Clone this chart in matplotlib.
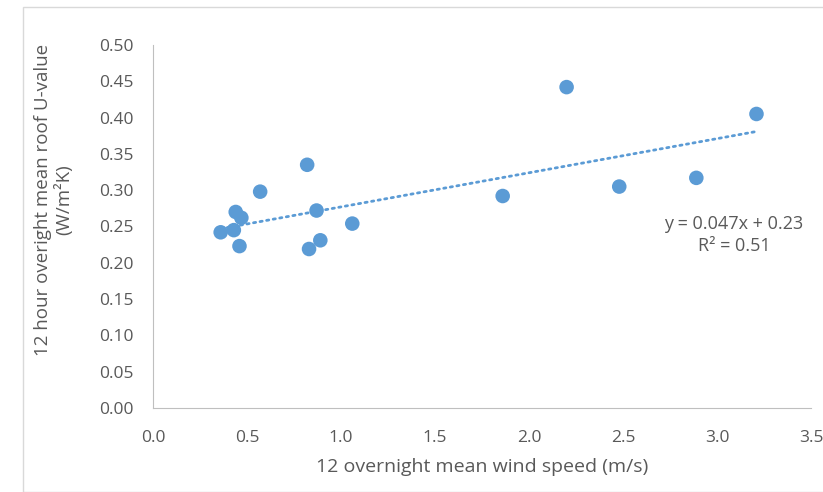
import matplotlib
matplotlib.use("Agg")
import matplotlib.pyplot as plt
from matplotlib.patches import Rectangle

# wind speed (m/s) and roof U-value (W/m2K)
wind = [0.36, 0.43, 0.44, 0.47, 0.46, 0.57, 0.82, 0.87, 0.83, 0.89, 1.06,
        1.86, 2.20, 2.48, 2.89, 3.21]
uval = [0.242, 0.245, 0.270, 0.262, 0.223, 0.298, 0.335, 0.272, 0.219, 0.231, 0.254,
        0.292, 0.442, 0.305, 0.317, 0.405]

slope = 0.047
intercept = 0.23
eq_text = "y = 0.047x + 0.23\nR² = 0.51"

xticks = [0.0, 0.5, 1.0, 1.5, 2.0, 2.5, 3.0, 3.5]
yticks = [0.00, 0.05, 0.10, 0.15, 0.20, 0.25, 0.30, 0.35, 0.40, 0.45, 0.50]

blue = "#5B9BD5"
grey = "#595959"
plt.rcParams['font.family'] = ['Open Sans', 'DejaVu Sans']

W, H = 823, 492
fig = plt.figure(figsize=(W/100, H/100), dpi=100)
ax = fig.add_axes([153/W, 1-408/H, (811-153)/W, (408-45)/H])

# chart area border
fig.patches.append(Rectangle((23/W, 0), 1, 1-7/H, transform=fig.transFigure,
                             fill=False, edgecolor="#d9d9d9", lw=1))

ax.scatter(wind, uval, s=110, color=blue, zorder=3, edgecolors="none")
x0, x1 = min(wind), max(wind)
ax.plot([x0, x1], [slope*x0+intercept, slope*x1+intercept], color=blue, lw=2,
        linestyle=(0, (0.8, 1.6)), dash_capstyle="round", zorder=2)

ax.set_xlim(0, 3.5)
ax.set_ylim(0, 0.5)
ax.set_xticks(xticks)
ax.set_yticks(yticks)
ax.set_xticklabels([f"{v:.1f}" for v in xticks])
ax.set_yticklabels([f"{v:.2f}" for v in yticks])
ax.tick_params(length=0, labelsize=12.5, labelcolor=grey)
ax.tick_params(axis="y", pad=14)
ax.tick_params(axis="x", pad=16)
for s in ["top", "right"]:
    ax.spines[s].set_visible(False)
for s in ["left", "bottom"]:
    ax.spines[s].set_color("#bfbfbf")

ax.text(3.09, 0.238, eq_text, ha="center", va="center", fontsize=13, color=grey,
        linespacing=1.3)

fig.text(482/W, 1-467/H, "12 overnight mean wind speed (m/s)", ha="center", va="center",
         fontsize=14, color=grey)
fig.text(54/W, 1-200/H, "12 hour overight mean roof U-value\n(W/m²K)", ha="center",
         va="center", rotation=90, fontsize=13.5, color=grey, linespacing=1.15)

fig.savefig("out.png", dpi=100)
